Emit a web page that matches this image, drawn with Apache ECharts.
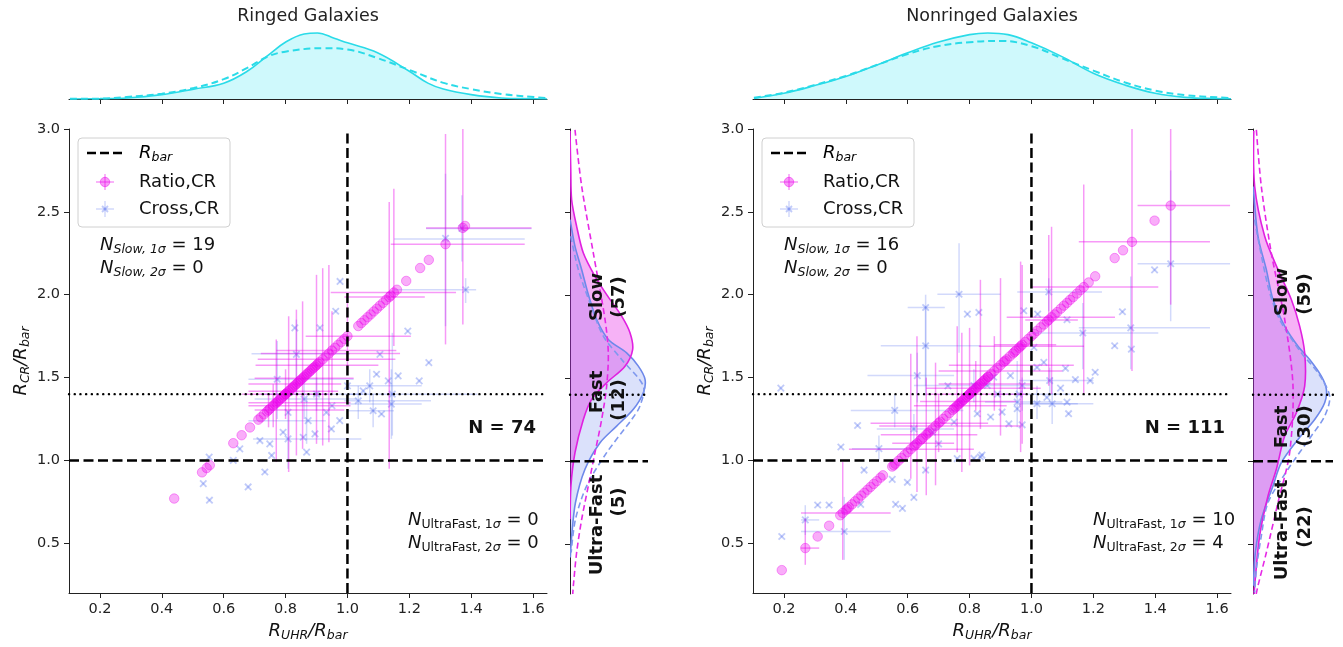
<!DOCTYPE html>
<html><head><meta charset="utf-8">
<script src="https://cdn.jsdelivr.net/npm/echarts@6/dist/echarts.min.js"></script>
<style>html,body{margin:0;padding:0;background:#fff}#c{width:1343px;height:647px}</style>
</head><body><div id="c"></div>
<script>
// ---------------- data ----------------
var xTicks = [0.2, 0.4, 0.6, 0.8, 1.0, 1.2, 1.4, 1.6];
var yTicks = [0.5, 1.0, 1.5, 2.0, 2.5, 3.0];
var rBar = 1.0;
var fastLimit = 1.4;

// Ringed: Ratio,CR points
var ringedRatioX = [0.44,0.53,0.545,0.555,0.631,0.658,0.685,0.712,0.72,0.73,0.74,0.745,0.75,0.76,0.765,0.77,0.775,0.78,0.785,0.79,0.795,0.80,0.80,0.805,0.81,0.815,0.82,0.825,0.83,0.835,0.84,0.845,0.85,0.855,0.86,0.865,0.87,0.875,0.88,0.885,0.89,0.895,0.90,0.905,0.91,0.92,0.93,0.94,0.95,0.96,0.97,0.98,0.99,1.00,1.035,1.045,1.055,1.065,1.075,1.085,1.095,1.105,1.115,1.125,1.135,1.14,1.15,1.16,1.19,1.235,1.263,1.317,1.373,1.38];
var ringedRatioY = [0.77,0.928,0.954,0.971,1.104,1.152,1.199,1.246,1.26,1.278,1.295,1.304,1.313,1.33,1.339,1.348,1.356,1.365,1.374,1.383,1.391,1.40,1.40,1.409,1.418,1.426,1.435,1.444,1.453,1.461,1.47,1.479,1.488,1.496,1.505,1.514,1.523,1.531,1.54,1.549,1.558,1.566,1.575,1.584,1.593,1.61,1.628,1.645,1.663,1.68,1.698,1.715,1.733,1.75,1.811,1.829,1.846,1.864,1.881,1.899,1.916,1.934,1.951,1.969,1.986,1.995,2.013,2.03,2.083,2.161,2.21,2.305,2.403,2.415];
// Ringed: Cross,CR points
var ringedCrossX = [0.976,0.962,0.830,0.911,1.105,1.195,1.263,1.382,1.317,1.37,1.094,1.164,1.132,1.232,1.051,1.072,1.035,1.083,1.110,1.142,1.145,0.773,0.835,0.808,0.873,0.932,0.948,0.975,0.792,0.808,0.857,0.868,0.895,0.717,0.749,0.755,0.652,0.631,0.733,0.679,0.553,0.534,0.554,0.90,0.95,0.86,1.00];
var ringedCrossY = [2.08,1.90,1.80,1.80,1.64,1.78,1.59,2.03,2.34,2.40,1.52,1.51,1.48,1.48,1.42,1.45,1.36,1.30,1.28,1.34,1.40,1.49,1.64,1.29,1.24,1.29,1.19,1.24,1.17,1.13,1.14,1.05,1.16,1.12,1.10,1.03,1.07,1.00,0.93,0.84,1.02,0.86,0.76,1.40,1.33,1.37,1.45];
// error bars: [x, xLow, xHigh, y, yLow, yHigh]
var ringedRatioErr = [
 [1.317,1.14,1.573,2.305,1.70,2.97],[1.373,1.254,1.595,2.403,1.82,3.10],[1.15,0.946,1.351,2.013,1.69,2.64],
 [1.135,0.99,1.25,1.986,0.95,2.56],[1.00,0.865,1.205,1.75,1.55,1.95],[0.95,0.77,1.158,1.663,1.40,1.90],
 [0.94,0.72,1.17,1.645,1.11,2.18],[0.92,0.71,1.155,1.61,1.09,2.16],[0.90,0.703,1.10,1.575,1.10,2.12],
 [0.855,0.70,1.02,1.496,1.07,1.96],[0.835,0.68,0.98,1.461,1.03,1.91],[0.81,0.68,0.97,1.418,0.93,1.87],
 [0.77,0.68,1.01,1.348,0.99,1.73],[0.80,0.66,0.94,1.40,1.25,1.55],[0.76,0.68,1.01,1.33,1.20,1.46],
 [0.745,0.70,0.99,1.304,1.20,1.40]];
var ringedCrossErr = [
 [1.317,1.151,1.573,2.336,1.81,2.73],[1.37,1.254,1.595,2.40,2.20,2.60],[1.382,1.151,1.416,2.03,1.95,2.10],
 [0.835,0.69,1.008,1.643,1.40,1.85],[0.773,0.68,1.02,1.49,1.25,1.72],[1.142,1.00,1.24,1.34,1.13,1.55],
 [1.145,1.00,1.42,1.40,1.15,1.77],[1.083,1.00,1.15,1.30,1.20,1.40],[0.808,0.695,1.045,1.13,0.95,1.30],
 [0.868,0.68,0.93,1.24,1.10,1.38],[0.86,0.70,1.03,1.37,1.25,1.50],[0.90,0.72,1.05,1.40,1.30,1.50],
 [1.035,0.99,1.27,1.36,1.25,1.45],[1.072,1.00,1.24,1.45,1.35,1.55]];

// Nonringed: Ratio,CR points
var nonRatioX = [0.193,0.269,0.309,0.346,0.382,0.39,0.40,0.405,0.41,0.42,0.43,0.44,0.45,0.46,0.47,0.48,0.49,0.50,0.512,0.52,0.55,0.555,0.56,0.57,0.58,0.59,0.60,0.61,0.62,0.625,0.63,0.64,0.645,0.65,0.66,0.665,0.67,0.68,0.69,0.70,0.705,0.715,0.725,0.735,0.745,0.75,0.755,0.76,0.765,0.77,0.775,0.78,0.785,0.79,0.795,0.80,0.80,0.805,0.81,0.815,0.82,0.825,0.83,0.835,0.84,0.845,0.85,0.855,0.86,0.86,0.87,0.88,0.89,0.90,0.91,0.915,0.92,0.93,0.94,0.945,0.95,0.96,0.965,0.97,0.98,0.99,1.00,1.008,1.018,1.03,1.04,1.05,1.056,1.065,1.075,1.083,1.095,1.105,1.115,1.125,1.135,1.147,1.158,1.169,1.185,1.206,1.269,1.296,1.325,1.398,1.45];
var nonRatioY = [0.338,0.471,0.541,0.606,0.669,0.683,0.70,0.709,0.718,0.735,0.753,0.77,0.788,0.805,0.823,0.84,0.858,0.875,0.896,0.91,0.963,0.971,0.98,0.998,1.015,1.033,1.05,1.068,1.085,1.094,1.103,1.12,1.129,1.138,1.155,1.164,1.173,1.19,1.208,1.225,1.234,1.251,1.269,1.286,1.304,1.313,1.321,1.33,1.339,1.348,1.356,1.365,1.374,1.383,1.391,1.40,1.40,1.409,1.418,1.426,1.435,1.444,1.453,1.461,1.47,1.479,1.488,1.496,1.505,1.505,1.523,1.54,1.558,1.575,1.593,1.601,1.61,1.628,1.645,1.654,1.663,1.68,1.689,1.698,1.715,1.733,1.75,1.764,1.782,1.803,1.82,1.838,1.848,1.864,1.881,1.895,1.916,1.934,1.951,1.969,1.986,2.007,2.027,2.046,2.074,2.111,2.221,2.268,2.319,2.447,2.538];
// Nonringed: Cross,CR points
var nonCrossX = [1.45,1.398,1.294,1.321,1.269,1.323,1.166,1.115,1.056,1.02,0.975,1.008,1.11,1.206,1.19,1.142,1.059,0.932,1.04,0.766,0.658,0.793,0.83,0.658,1.018,1.094,1.115,1.12,1.067,1.018,0.19,0.558,0.438,0.384,0.631,0.97,0.97,0.927,0.868,0.825,0.905,0.954,0.954,0.75,0.835,0.76,0.62,0.507,0.771,0.814,0.857,0.878,0.658,0.459,0.55,0.599,0.62,0.561,0.583,0.309,0.346,0.269,0.193,0.395,0.448,0.814,0.84,0.70,0.68,0.89,0.96,1.05,0.73];
var nonCrossY = [2.187,2.15,1.897,1.80,1.692,1.672,1.769,1.849,2.017,1.883,1.903,1.682,1.556,1.532,1.482,1.488,1.482,1.512,1.592,2.003,1.923,1.883,1.893,1.692,1.562,1.436,1.352,1.282,1.342,1.342,1.436,1.302,1.211,1.081,1.512,1.452,1.215,1.221,1.262,1.282,1.292,1.352,1.312,1.231,1.021,1.011,1.19,1.071,1.352,1.452,1.452,1.502,0.942,0.942,0.886,0.868,0.777,0.735,0.711,0.731,0.731,0.641,0.541,0.571,0.735,1.012,1.032,1.10,1.17,1.40,1.40,1.38,1.45];
var nonRatioErr = [
 [1.45,1.343,1.642,2.538,1.94,3.10],[1.325,1.153,1.577,2.319,1.54,3.10],[1.169,1.00,1.41,2.046,1.40,2.665],
 [1.065,0.92,1.27,1.864,1.40,2.41],[1.056,0.98,1.15,1.848,1.45,2.36],[0.965,0.83,1.17,1.689,1.05,2.20],
 [0.97,0.88,1.08,1.698,1.10,2.18],[0.90,0.733,1.137,1.575,1.15,2.10],[0.835,0.70,1.00,1.461,1.19,2.09],
 [0.80,0.66,0.98,1.40,0.97,1.80],[0.775,0.64,0.95,1.356,0.93,1.77],[0.76,0.62,0.92,1.33,1.05,1.81],
 [0.69,0.508,0.964,1.208,0.85,1.59],[0.66,0.513,0.825,1.155,0.79,1.50],[0.63,0.55,0.75,1.103,0.81,1.75],
 [0.61,0.41,0.814,1.068,0.89,1.643],[0.39,0.255,0.545,0.683,0.40,0.99],[0.269,0.255,0.314,0.471,0.37,0.65],
 [0.88,0.70,1.10,1.54,1.30,1.75],[0.82,0.66,1.03,1.435,1.30,1.60],[0.70,0.48,0.86,1.225,1.05,1.40]];
var nonCrossErr = [
 [1.45,1.343,1.642,2.187,1.84,2.75],[1.321,1.153,1.577,1.80,1.55,2.11],[1.166,1.00,1.41,1.769,1.55,1.95],
 [1.056,0.954,1.228,2.017,1.90,2.10],[0.766,0.696,0.90,2.003,1.65,2.31],[0.658,0.513,0.835,1.692,1.45,1.93],
 [0.658,0.60,0.72,1.923,1.39,2.00],[0.631,0.47,0.75,1.512,1.35,1.65],[1.059,0.96,1.20,1.482,1.40,1.56],
 [1.018,0.96,1.20,1.342,1.25,1.45],[0.558,0.416,0.78,1.302,1.20,1.40],[0.395,0.255,0.545,0.571,0.40,0.78],
 [0.269,0.255,0.314,0.641,0.55,0.73],[0.814,0.62,1.00,1.452,1.35,1.55],[0.62,0.50,0.75,1.19,1.10,1.28],
 [0.507,0.42,0.62,1.071,1.00,1.15],[0.954,0.85,1.10,1.352,1.20,1.60],[1.067,1.00,1.15,1.342,1.22,1.50],
 [0.97,0.88,1.125,1.40,1.30,1.50]];

// top marginal density (x = R_UHR/R_bar, relative height)
var ringedTopSolid = [[0.103,0],[0.2,0.005],[0.287,0.015],[0.4,0.066],[0.503,0.15],[0.6,0.24],[0.676,0.42],[0.74,0.65],[0.803,0.87],[0.86,0.985],[0.903,1.0],[0.957,0.92],[1.0,0.85],[1.097,0.70],[1.2,0.42],[1.26,0.24],[1.31,0.15],[1.4,0.066],[1.497,0.015],[1.603,0.003],[1.645,0.001]];
var ringedTopDash = [[0.103,0.003],[0.2,0.005],[0.286,0.03],[0.4,0.08],[0.503,0.167],[0.6,0.30],[0.676,0.47],[0.741,0.64],[0.803,0.72],[0.924,0.77],[1.0,0.75],[1.097,0.62],[1.2,0.44],[1.314,0.24],[1.4,0.15],[1.497,0.076],[1.603,0.03],[1.645,0.015]];
var nonTopSolid = [[0.103,0.01],[0.2,0.086],[0.297,0.2],[0.4,0.34],[0.503,0.52],[0.6,0.70],[0.697,0.86],[0.8,0.975],[0.859,1.0],[0.924,0.975],[1.0,0.85],[1.097,0.645],[1.2,0.39],[1.303,0.21],[1.4,0.086],[1.497,0.025],[1.6,0.005],[1.645,0.002]];
var nonTopDash = [[0.103,0.02],[0.2,0.096],[0.297,0.21],[0.4,0.35],[0.503,0.52],[0.6,0.68],[0.697,0.80],[0.8,0.86],[0.903,0.88],[1.0,0.80],[1.097,0.62],[1.2,0.43],[1.303,0.25],[1.4,0.127],[1.497,0.06],[1.6,0.025],[1.645,0.015]];

// side marginal density ([relative width, R_CR/R_bar])
var ringedSideRatio = [[0,2.99],[0.01,2.75],[0.021,2.574],[0.085,2.414],[0.171,2.253],[0.32,2.113],[0.47,2.003],[0.662,1.873],[0.769,1.773],[0.803,1.672],[0.705,1.572],[0.47,1.472],[0.278,1.372],[0.171,1.251],[0.064,1.051],[0.012,0.851],[0.002,0.65]];
var ringedSideCross = [[0.002,2.454],[0.064,2.293],[0.15,2.153],[0.235,2.003],[0.342,1.853],[0.491,1.733],[0.726,1.652],[0.876,1.572],[0.962,1.492],[0.94,1.412],[0.812,1.312],[0.598,1.211],[0.385,1.111],[0.192,0.951],[0.07,0.75],[0.022,0.55],[0.004,0.42]];
var ringedSideRatioFit = [[0.064,2.995],[0.15,2.654],[0.299,2.253],[0.449,1.853],[0.491,1.652],[0.47,1.452],[0.406,1.251],[0.32,1.051],[0.235,0.851],[0.15,0.65],[0.085,0.45],[0.043,0.25],[0.035,0.2]];
var ringedSideCrossFit = [[0.01,2.354],[0.107,2.153],[0.256,1.953],[0.427,1.753],[0.662,1.612],[0.94,1.452],[0.897,1.332],[0.79,1.251],[0.47,1.051],[0.214,0.851],[0.07,0.65],[0.015,0.45]];
var nonSideRatio = [[0.01,2.99],[0.021,2.654],[0.146,2.354],[0.3125,2.153],[0.479,1.973],[0.583,1.813],[0.646,1.652],[0.646,1.452],[0.542,1.291],[0.396,1.151],[0.292,0.951],[0.1875,0.79],[0.083,0.55],[0.021,0.25],[0.015,0.2]];
var nonSideCross = [[0.004,2.654],[0.0625,2.354],[0.167,2.153],[0.25,1.973],[0.396,1.813],[0.5625,1.692],[0.708,1.612],[0.854,1.512],[0.917,1.432],[0.896,1.352],[0.771,1.251],[0.5625,1.131],[0.354,0.991],[0.25,0.851],[0.104,0.65],[0.03,0.45],[0.005,0.25]];
var nonSideRatioFit = [[0.042,2.995],[0.104,2.654],[0.229,2.253],[0.396,1.853],[0.5,1.452],[0.458,1.051],[0.3125,0.751],[0.167,0.45],[0.0625,0.25],[0.04,0.2]];
var nonSideCrossFit = [[0.02,2.454],[0.1875,2.053],[0.333,1.853],[0.604,1.652],[0.8125,1.532],[0.958,1.392],[0.896,1.271],[0.729,1.151],[0.4375,0.951],[0.1875,0.75],[0.104,0.55],[0.042,0.35],[0.02,0.21]];

// ---------------- styling helpers ----------------
var F = 'DejaVu Sans';
var MAG = 'rgba(235,0,235,0.40)';
var MAGPT = 'rgba(235,0,235,0.40)';
var BLU = 'rgba(95,120,240,0.28)';
var BLUPT = 'rgba(100,125,240,0.40)';
var CYAN = '#2adbe8';
var rich = {
  n:{fontFamily:F,fontSize:18,fontStyle:'italic',color:'#111',lineHeight:22},
  s:{fontFamily:F,fontSize:12.5,fontStyle:'italic',color:'#111',lineHeight:12,verticalAlign:'bottom'},
  u:{fontFamily:F,fontSize:12.5,color:'#111',lineHeight:12,verticalAlign:'bottom'},
  t:{fontFamily:F,fontSize:18,color:'#111',lineHeight:22}
};
function zip(xs, ys){ return xs.map(function(x,i){ return [x, ys[i]]; }); }

function mainX(gi){
  return {type:'value',gridIndex:gi,min:0.1,max:1.645,
    axisLine:{show:true,onZero:false,lineStyle:{color:'#222',width:1}},
    axisTick:{show:true,length:5,customValues:xTicks,lineStyle:{color:'#222'}},
    axisLabel:{show:true,customValues:xTicks,formatter:function(v){return v.toFixed(1);},fontSize:14.5,color:'#222',fontFamily:F,margin:9},
    splitLine:{show:false},
    name:'{n|R}{s|UHR}{n|/R}{s|bar}',nameLocation:'middle',nameGap:27,nameTextStyle:{rich:rich}};
}
function mainY(gi){
  return {type:'value',gridIndex:gi,min:0.2,max:3.0,
    axisLine:{show:true,onZero:false,lineStyle:{color:'#222',width:1}},
    axisTick:{show:true,length:5,customValues:yTicks,lineStyle:{color:'#222'}},
    axisLabel:{show:true,customValues:yTicks,formatter:function(v){return v.toFixed(1);},fontSize:14.5,color:'#222',fontFamily:F,margin:9},
    splitLine:{show:false},
    name:'{n|R}{s|CR}{n|/R}{s|bar}',nameLocation:'middle',nameRotate:90,nameGap:37,nameTextStyle:{rich:rich}};
}
function topX(gi){
  return {type:'value',gridIndex:gi,min:0.1,max:1.645,
    axisLine:{show:true,onZero:false,lineStyle:{color:'#222',width:1}},
    axisTick:{show:true,length:5,customValues:xTicks,lineStyle:{color:'#222'}},
    axisLabel:{show:false},splitLine:{show:false}};
}
function topY(gi){ return {type:'value',gridIndex:gi,min:0,max:1.075,show:false,splitLine:{show:false}}; }
function sideX(gi){ return {type:'value',gridIndex:gi,min:0,max:1,show:false,splitLine:{show:false}}; }
function sideY(gi){
  return {type:'value',gridIndex:gi,min:0.2,max:3.0,
    axisLine:{show:true,onZero:false,lineStyle:{color:'#222',width:1}},
    axisTick:{show:true,length:5,customValues:yTicks,lineStyle:{color:'#222'}},
    axisLabel:{show:false},splitLine:{show:false}};
}

function errSeries(ai, data, color, z){
  return {type:'custom',xAxisIndex:ai,yAxisIndex:ai,data:data,clip:true,silent:true,z:z,
    encode:{x:[0,1,2],y:[3,4,5]},
    renderItem:function(params, api){
      var x=api.value(0), xl=api.value(1), xh=api.value(2), y=api.value(3), yl=api.value(4), yh=api.value(5);
      var a=api.coord([xl,y]), b=api.coord([xh,y]), c=api.coord([x,yl]), d=api.coord([x,yh]);
      return {type:'group',children:[
        {type:'line',shape:{x1:a[0],y1:a[1],x2:b[0],y2:b[1]},style:{stroke:color,lineWidth:1.5}},
        {type:'line',shape:{x1:c[0],y1:c[1],x2:d[0],y2:d[1]},style:{stroke:color,lineWidth:1.5}}
      ]};
    }};
}
function crossSeries(ai, data, z){
  return {type:'custom',xAxisIndex:ai,yAxisIndex:ai,data:data,clip:true,silent:true,z:z,
    encode:{x:0,y:1},
    renderItem:function(params, api){
      var p=api.coord([api.value(0),api.value(1)]), s=3.2;
      return {type:'group',children:[
        {type:'line',shape:{x1:p[0]-s,y1:p[1]-s,x2:p[0]+s,y2:p[1]+s},style:{stroke:BLUPT,lineWidth:1.8}},
        {type:'line',shape:{x1:p[0]-s,y1:p[1]+s,x2:p[0]+s,y2:p[1]-s},style:{stroke:BLUPT,lineWidth:1.8}}
      ]};
    }};
}
function ratioSeries(ai, data, z){
  return {type:'scatter',xAxisIndex:ai,yAxisIndex:ai,data:data,symbol:'circle',symbolSize:9.5,silent:true,z:z,
    itemStyle:{color:MAGPT,borderColor:'rgba(235,0,235,0.45)',borderWidth:1}};
}
function refLine(ai, pts, type, z){
  return {type:'line',xAxisIndex:ai,yAxisIndex:ai,data:pts,symbol:'none',silent:true,z:z,
    lineStyle:{color:'#000',width:type==='dot'?2.4:2.5,type:type==='dot'?[0.1,5.6]:[10,4.5],cap:type==='dot'?'round':'butt'}};
}
function topLine(ai, pts, dashed){
  var s={type:'line',xAxisIndex:ai,yAxisIndex:ai,data:pts,symbol:'none',smooth:0.4,silent:true,z:3,
    lineStyle:{color:CYAN,width:dashed?2:1.6,type:dashed?[7,4]:'solid'}};
  if(!dashed) s.areaStyle={color:'rgba(0,225,238,0.27)'};
  return s;
}
function sideCurve(ai, pts, stroke, dash, fill, z){
  return {type:'custom',xAxisIndex:ai,yAxisIndex:ai,data:pts,clip:true,silent:true,z:z,
    encode:{x:0,y:1},
    renderItem:function(params, api){
      if(params.dataIndex!==0) return null;
      var arr=pts.map(function(p){return api.coord(p);});
      if(fill){
        var poly=arr.slice();
        if(pts[0][0]>0) poly.unshift(api.coord([0,pts[0][1]]));
        if(pts[pts.length-1][0]>0) poly.push(api.coord([0,pts[pts.length-1][1]]));
        return {type:'polygon',shape:{points:poly,smooth:0.3},style:{fill:fill,stroke:null}};
      }
      return {type:'polyline',shape:{points:arr,smooth:0.3},style:{stroke:stroke,lineWidth:1.6,lineDash:dash,fill:null}};
    }};
}

// ---------------- graphic (legend, annotations) ----------------
function legendGraphic(dx){
  var g=[];
  g.push({type:'rect',shape:{x:78+dx,y:138,width:152,height:89,r:4},style:{fill:'rgba(255,255,255,0.85)',stroke:'#d0d0d0',lineWidth:1},z:20});
  g.push({type:'line',shape:{x1:87+dx,y1:153,x2:123+dx,y2:153},style:{stroke:'#000',lineWidth:2.5,lineDash:[9,4]},z:21});
  g.push({type:'text',x:139+dx,y:153,style:{text:'{n|R}{s|bar}',rich:rich,align:'left',verticalAlign:'middle'},z:21});
  g.push({type:'line',shape:{x1:96+dx,y1:182,x2:114+dx,y2:182},style:{stroke:MAG,lineWidth:1.5},z:21});
  g.push({type:'line',shape:{x1:105+dx,y1:174,x2:105+dx,y2:190},style:{stroke:MAG,lineWidth:1.5},z:21});
  g.push({type:'circle',shape:{cx:105+dx,cy:182,r:4.75},style:{fill:MAGPT,stroke:'rgba(235,0,235,0.45)',lineWidth:1},z:21});
  g.push({type:'text',x:139+dx,y:182,style:{text:'Ratio,CR',fontFamily:F,fontSize:18,fill:'#111',align:'left',verticalAlign:'middle'},z:21});
  g.push({type:'line',shape:{x1:96+dx,y1:209,x2:114+dx,y2:209},style:{stroke:BLU,lineWidth:1.5},z:21});
  g.push({type:'line',shape:{x1:105+dx,y1:201,x2:105+dx,y2:217},style:{stroke:BLU,lineWidth:1.5},z:21});
  g.push({type:'line',shape:{x1:102+dx,y1:206,x2:108+dx,y2:212},style:{stroke:BLUPT,lineWidth:1.8},z:21});
  g.push({type:'line',shape:{x1:102+dx,y1:212,x2:108+dx,y2:206},style:{stroke:BLUPT,lineWidth:1.8},z:21});
  g.push({type:'text',x:139+dx,y:209,style:{text:'Cross,CR',fontFamily:F,fontSize:18,fill:'#111',align:'left',verticalAlign:'middle'},z:21});
  return g;
}
function txt(x,y,text){
  return {type:'text',x:x,y:y,style:{text:text,rich:rich,align:'left',verticalAlign:'middle',fontFamily:F,fontSize:18,fill:'#111'},z:22};
}
function boldTxt(x,y,text,rot,align){
  return {type:'text',x:x,y:y,rotation:rot||0,style:{text:text,fontFamily:F,fontSize:18,fontWeight:'bold',fill:'#111',align:align||'center',verticalAlign:'middle'},z:22};
}
var R90=Math.PI/2;
var graphics=[].concat(
  legendGraphic(0), legendGraphic(684),
  [
   {type:'text',x:308,y:16,style:{text:'Ringed Galaxies',fontFamily:F,fontSize:17.5,fill:'#222',align:'center',verticalAlign:'middle'}},
   {type:'text',x:992,y:16,style:{text:'Nonringed Galaxies',fontFamily:F,fontSize:17.5,fill:'#222',align:'center',verticalAlign:'middle'}},
   txt(100,245,'{n|N}{s|Slow, 1σ}{t| = 19}'), txt(100,268,'{n|N}{s|Slow, 2σ}{t| = 0}'),
   txt(784,245,'{n|N}{s|Slow, 1σ}{t| = 16}'), txt(784,268,'{n|N}{s|Slow, 2σ}{t| = 0}'),
   txt(408,520,'{n|N}{u|UltraFast, 1}{s|σ}{t| = 0}'), txt(408,543,'{n|N}{u|UltraFast, 2}{s|σ}{t| = 0}'),
   txt(1093,520,'{n|N}{u|UltraFast, 1}{s|σ}{t| = 10}'), txt(1093,543,'{n|N}{u|UltraFast, 2}{s|σ}{t| = 4}'),
   boldTxt(536,428,'N = 74',0,'right'), boldTxt(1225,428,'N = 111',0,'right'),
   boldTxt(597,297,'Slow',R90), boldTxt(619,297,'(57)',R90),
   boldTxt(597,392,'Fast',R90), boldTxt(619,400,'(12)',R90),
   boldTxt(597,525,'Ultra-Fast',R90), boldTxt(619,502,'(5)',R90),
   boldTxt(1282,292,'Slow',R90), boldTxt(1305,294,'(59)',R90),
   boldTxt(1282,427,'Fast',R90), boldTxt(1305,426,'(30)',R90),
   boldTxt(1282,530,'Ultra-Fast',R90), boldTxt(1305,527,'(22)',R90)
  ]);

// ---------------- option ----------------
var yLo=0.2, yHi=3.0, xLo=0.1, xHi=1.645;
var series=[];
function panel(m, t, s, ratioX, ratioY, crossX, crossY, rErr, cErr, topS, topD, sR, sC, sRF, sCF){
  series.push(errSeries(m, cErr, BLU, 2));
  series.push(crossSeries(m, zip(crossX, crossY), 3));
  series.push(errSeries(m, rErr, MAG, 4));
  series.push(ratioSeries(m, zip(ratioX, ratioY), 5));
  series.push(refLine(m, [[rBar,yLo],[rBar,yHi]], 'dash', 6));
  series.push(refLine(m, [[xLo,rBar],[xHi,rBar]], 'dash', 6));
  series.push(refLine(m, [[xLo,fastLimit],[xHi,fastLimit]], 'dot', 6));
  series.push(topLine(t, topS, false));
  series.push(topLine(t, topD, true));
  series.push(sideCurve(s, sC, null, null, 'rgba(90,120,235,0.22)', 2));
  series.push(sideCurve(s, sR, null, null, 'rgba(225,0,225,0.30)', 2));
  series.push(sideCurve(s, sC, '#6d88ea', null, null, 3));
  series.push(sideCurve(s, sR, '#e020e0', null, null, 3));
  series.push(sideCurve(s, sCF, '#7f98ee', [6,3.5], null, 3));
  series.push(sideCurve(s, sRF, '#e628e6', [6,3.5], null, 3));
  series.push(refLine(s, [[0,rBar],[1,rBar]], 'dash', 6));
  series.push(refLine(s, [[0,fastLimit],[1,fastLimit]], 'dot', 6));
}
panel(0,1,2, ringedRatioX, ringedRatioY, ringedCrossX, ringedCrossY, ringedRatioErr, ringedCrossErr, ringedTopSolid, ringedTopDash, ringedSideRatio, ringedSideCross, ringedSideRatioFit, ringedSideCrossFit);
panel(3,4,5, nonRatioX, nonRatioY, nonCrossX, nonCrossY, nonRatioErr, nonCrossErr, nonTopSolid, nonTopDash, nonSideRatio, nonSideCross, nonSideRatioFit, nonSideCrossFit);

var option={
  animation:false,
  backgroundColor:'#fff',
  textStyle:{fontFamily:F},
  grid:[
    {left:69,top:129,width:478,height:465},
    {left:69,top:28,width:478,height:71},
    {left:570,top:129,width:78,height:465},
    {left:753,top:129,width:478,height:465},
    {left:753,top:28,width:478,height:71},
    {left:1253,top:129,width:80,height:465}
  ],
  xAxis:[mainX(0),topX(1),sideX(2),mainX(3),topX(4),sideX(5)],
  yAxis:[mainY(0),topY(1),sideY(2),mainY(3),topY(4),sideY(5)],
  series:series,
  graphic:graphics
};
var chart=echarts.init(document.getElementById('c'),null,{renderer:'canvas'});
chart.setOption(option);
</script></body></html>
